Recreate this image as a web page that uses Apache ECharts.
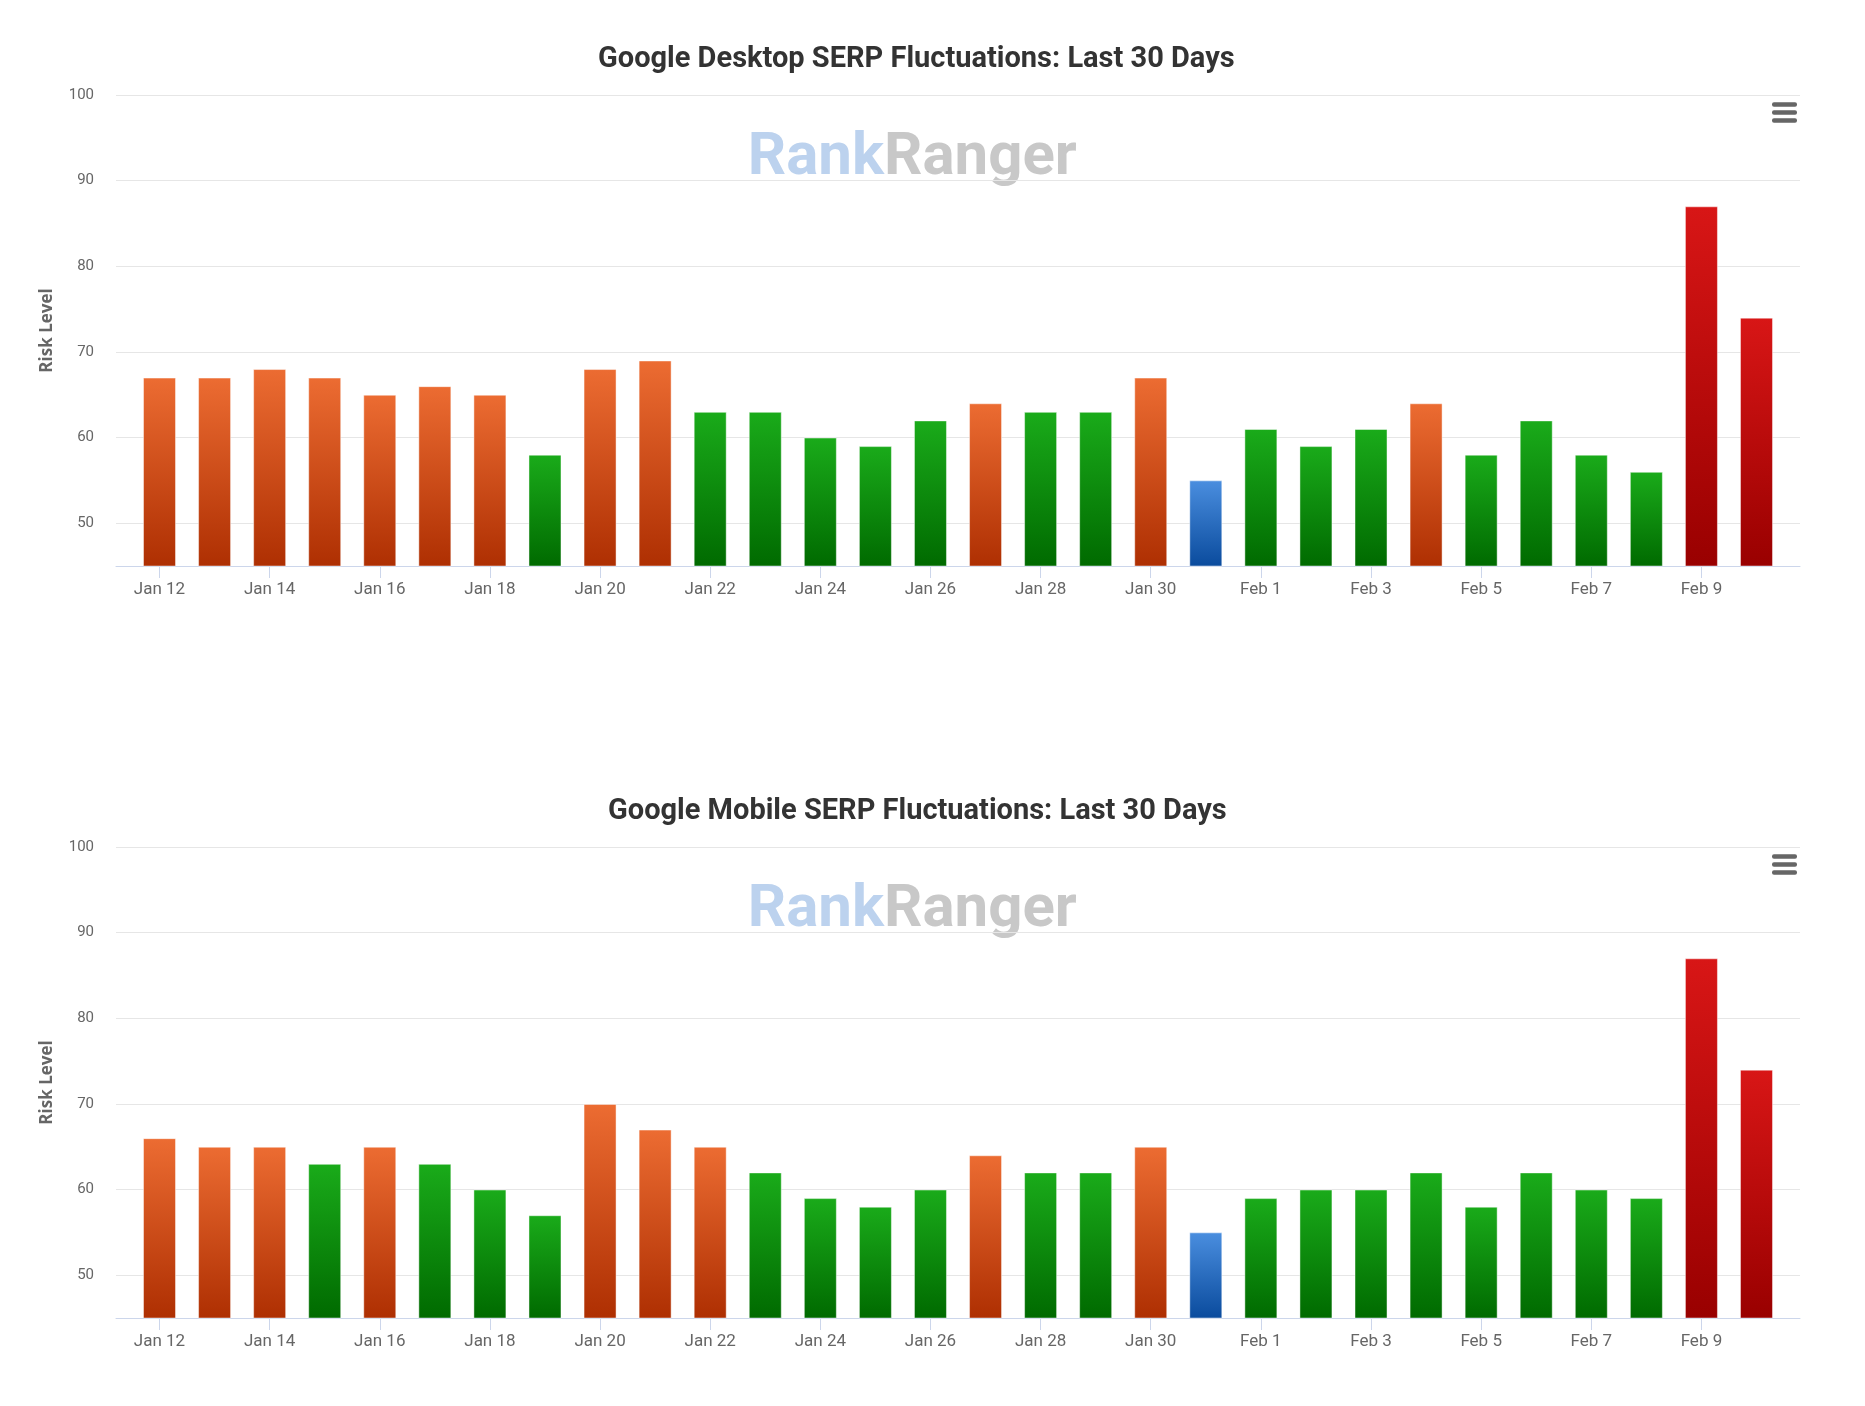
<!DOCTYPE html>
<html>
<head>
<meta charset="utf-8">
<script src="https://cdn.jsdelivr.net/npm/echarts@6/dist/echarts.min.js"></script>
<style>
html,body{margin:0;padding:0;background:#ffffff;}
#c{width:1865px;height:1406px;}
</style>
</head>
<body>
<div id="c"></div>
<script>
const categories = [
  'Jan 12','Jan 13','Jan 14','Jan 15','Jan 16','Jan 17','Jan 18','Jan 19','Jan 20','Jan 21',
  'Jan 22','Jan 23','Jan 24','Jan 25','Jan 26','Jan 27','Jan 28','Jan 29','Jan 30','Jan 31',
  'Feb 1','Feb 2','Feb 3','Feb 4','Feb 5','Feb 6','Feb 7','Feb 8','Feb 9','Feb 10'
];
const desktopValues = [67,67,68,67,65,66,65,58,68,69,63,63,60,59,62,64,63,63,67,55,61,59,61,64,58,62,58,56,87,74];
const mobileValues  = [66,65,65,63,65,63,60,57,70,67,65,62,59,58,60,64,62,62,65,55,59,60,60,62,58,62,60,59,87,74];
const yTickLabels = [50,60,70,80,90,100];
const xLabelIndices = [0,2,4,6,8,10,12,14,16,18,20,22,24,26,28];
const chartTitles = [
  'Google Desktop SERP Fluctuations: Last 30 Days',
  'Google Mobile SERP Fluctuations: Last 30 Days'
];

function barColor(v) {
  let top, bottom;
  if (v <= 55) { top = '#4a8edf'; bottom = '#0a4b9d'; }
  else if (v <= 63) { top = '#1aab1a'; bottom = '#006a00'; }
  else if (v <= 70) { top = '#ec6c32'; bottom = '#ae2f02'; }
  else { top = '#d81616'; bottom = '#990000'; }
  return new echarts.graphic.LinearGradient(0, 0, 0, 1, [
    { offset: 0, color: top }, { offset: 1, color: bottom }
  ]);
}

const gridTops = [95, 847];
const gridH = 471;
const offsets = [0, 752];
const titleLefts = [598, 608];

function makeX(idx) {
  return {
    type: 'value', gridIndex: idx, min: -0.79, max: 29.79,
    splitLine: { show: false },
    axisLine: { show: true, onZero: false, lineStyle: { color: '#ccd6eb', width: 1 } },
    axisTick: { show: true, length: 12, lineStyle: { color: '#ccd6eb' }, customValues: xLabelIndices },
    axisLabel: {
      customValues: xLabelIndices,
      formatter: function (v) { return categories[Math.round(v)]; },
      color: '#666666', fontFamily: 'Roboto', fontSize: 17, margin: 15
    }
  };
}
function makeY(idx) {
  return {
    type: 'value', gridIndex: idx, min: 45, max: 100, splitNumber: 5,
    axisLine: { show: false }, axisTick: { show: false },
    splitLine: { show: true, lineStyle: { color: '#e6e6e6', width: 1 } },
    axisLabel: { customValues: yTickLabels, color: '#666666', fontFamily: 'Roboto', fontSize: 15, margin: 22 },
    name: 'Risk Level', nameLocation: 'middle', nameGap: 60, nameRotate: 90,
    nameTextStyle: { color: '#666666', fontFamily: 'Open Sans', fontWeight: 'bold', fontSize: 17 }
  };
}
function makeSeries(idx, values) {
  return {
    type: 'bar', xAxisIndex: idx, yAxisIndex: idx, barWidth: 33,
    itemStyle: { borderColor: 'rgba(255,255,255,0.45)', borderWidth: 1 },
    data: values.map(function (v, i) { return { value: [i, v], itemStyle: { color: barColor(v) } }; })
  };
}

const graphics = [];
offsets.forEach(function (off) {
  graphics.push({
    type: 'text', x: 884, y: 159 + off, z: 0,
    style: { text: 'Rank', fill: '#bcd2ee', font: 'bold 60px Roboto', textAlign: 'right', align: 'right', textVerticalAlign: 'middle', verticalAlign: 'middle' }
  });
  graphics.push({
    type: 'text', x: 884, y: 159 + off, z: 0,
    style: { text: 'Ranger', fill: '#c8c8c8', font: 'bold 60px Roboto', textAlign: 'left', align: 'left', textVerticalAlign: 'middle', verticalAlign: 'middle' }
  });
  [104.5, 112.5, 120.5].forEach(function (y) {
    graphics.push({
      type: 'rect', shape: { x: 1772, y: y - 2.25 + off, width: 25, height: 4.5, r: 2 },
      style: { fill: '#666666' }
    });
  });
});

const chart = echarts.init(document.getElementById('c'), null, { renderer: 'canvas' });
chart.setOption({
  animation: false,
  backgroundColor: '#ffffff',
  title: chartTitles.map(function (t, i) {
    return {
      text: t, left: titleLefts[i], top: 45 + offsets[i], padding: 0,
      textStyle: { color: '#333333', fontFamily: 'Roboto', fontWeight: 'bold', fontSize: 29 }
    };
  }),
  grid: gridTops.map(function (t) { return { left: 116, right: 65, top: t, height: gridH, containLabel: false }; }),
  xAxis: [makeX(0), makeX(1)],
  yAxis: [makeY(0), makeY(1)],
  series: [makeSeries(0, desktopValues), makeSeries(1, mobileValues)],
  graphic: graphics
});
</script>
</body>
</html>
